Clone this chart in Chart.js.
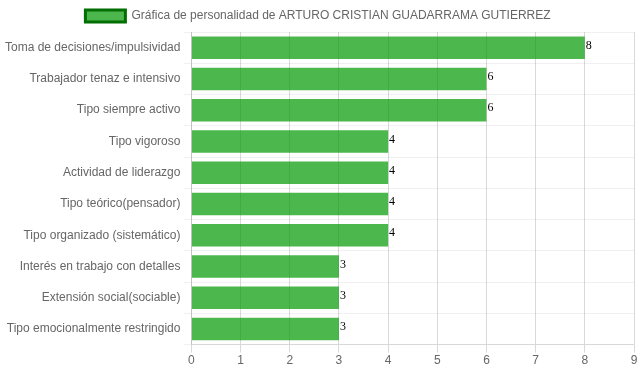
<!DOCTYPE html>
<html><head><meta charset="utf-8">
<script src="https://cdn.jsdelivr.net/npm/chart.js@4"></script>
<style>html,body{margin:0;padding:0;background:#fff}#w{width:639px;height:372px}</style>
</head><body><div id="w"><canvas id="c"></canvas></div>
<script>
const categories = ["Toma de decisiones/impulsividad","Trabajador tenaz e intensivo","Tipo siempre activo","Tipo vigoroso","Actividad de liderazgo","Tipo teórico(pensador)","Tipo organizado (sistemático)","Interés en trabajo con detalles","Extensión social(sociable)","Tipo emocionalmente restringido"];
const values = [8,6,6,4,4,4,4,3,3,3];
const seriesLabel = "Gráfica de personalidad de ARTURO CRISTIAN GUADARRAMA GUTIERREZ";

Chart.defaults.font.family = "'Liberation Sans', Arial, sans-serif";
Chart.defaults.font.size = 12;
Chart.defaults.color = '#666';

const valueLabels = {
  id: 'valueLabels',
  afterDatasetsDraw(chart) {
    const ctx = chart.ctx;
    const meta = chart.getDatasetMeta(0);
    ctx.save();
    ctx.font = "12px 'Liberation Serif', serif";
    ctx.fillStyle = '#000';
    ctx.textAlign = 'left';
    ctx.textBaseline = 'middle';
    meta.data.forEach((bar, i) => {
      ctx.fillText(String(values[i]), bar.x + 1, bar.y - 2);
    });
    ctx.restore();
  }
};

new Chart(document.getElementById('c'), {
  type: 'bar',
  data: {
    labels: categories,
    datasets: [{
      label: seriesLabel,
      data: values,
      backgroundColor: 'rgba(0,153,0,0.7)',
      borderColor: 'rgb(0,120,0)',
      borderWidth: 0
    }]
  },
  options: {
    indexAxis: 'y',
    responsive: true,
    maintainAspectRatio: false,
    animation: false,
    layout: { padding: { right: 5, left: 2, bottom: 3 } },
    plugins: {
      legend: {
        labels: {
          boxWidth: 40,
          boxHeight: 12,
          generateLabels(chart) {
            return [{ text: seriesLabel, fillStyle: 'rgba(0,153,0,0.7)', strokeStyle: 'rgb(0,110,0)', lineWidth: 3, datasetIndex: 0, fontColor: '#666' }];
          }
        }
      },
      tooltip: { enabled: false }
    },
    scales: {
      x: {
        min: 0, max: 9,
        ticks: { stepSize: 1, color: '#666', padding: 1 },
        grid: { color: 'rgba(0,0,0,0.15)' }
      },
      y: {
        ticks: { color: '#666' },
        grid: { color: 'rgba(0,0,0,0.06)' }
      }
    }
  },
  plugins: [valueLabels]
});
</script>
</body></html>
